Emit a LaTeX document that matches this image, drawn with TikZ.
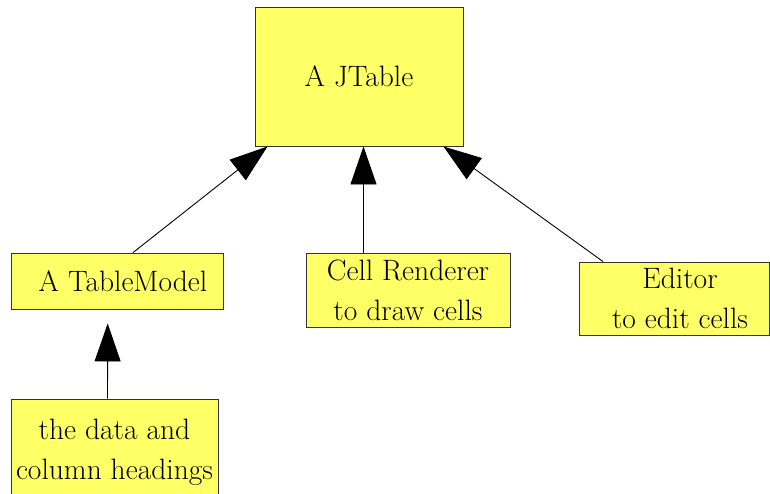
\documentclass[tikz,border=0pt]{standalone}
\usetikzlibrary{arrows.meta}
\definecolor{boxfill}{HTML}{FFFF66}
\definecolor{boxline}{HTML}{333333}
\tikzset{
  box/.style={draw=boxline, line width=0.9pt, fill=boxfill, inner sep=0pt,
    align=center, font=\fontsize{29.5}{40}\selectfont},
  arr/.style={line width=0.9pt, -{Triangle[length=38pt,width=26pt]}}
}
\begin{document}
\begin{tikzpicture}[x=1pt,y=-1pt]
  \useasboundingbox (0,0) rectangle (770,493);
  \clip (0,0) rectangle (770,493);
  % boxes
  \node[box, minimum width=208pt, minimum height=139pt] (jt) at (359,76.5) {A JTable};
  \node[box, minimum width=212pt, minimum height=56pt] (tm) at (117,281) {\hspace*{12pt}A TableModel};
  \node[box, minimum width=204pt, minimum height=74pt] (cr) at (408,290) {Cell Renderer\\to draw cells};
  \node[box, minimum width=190pt, minimum height=73pt] (ed) at (674,298.5) {\hspace*{12pt}Editor\\\hspace*{12pt}to edit cells};
  \node[box, minimum width=207pt, minimum height=106pt] (dt) at (114.5,452) {the data and\\column headings};
  % connectors
  \draw[arr] ([xshift=16pt]tm.north) -- ([xshift=13pt]jt.south west);
  \draw[arr] ([xshift=-44.5pt]cr.north) -- ([xshift=4.5pt]jt.south);
  \draw[arr] ([xshift=-71pt]ed.north) -- ([xshift=-20pt]jt.south east);
  \draw[arr] ([xshift=-7pt]dt.north) -- ([xshift=-9.3pt,yshift=-14pt]tm.south);
\end{tikzpicture}
\end{document}
